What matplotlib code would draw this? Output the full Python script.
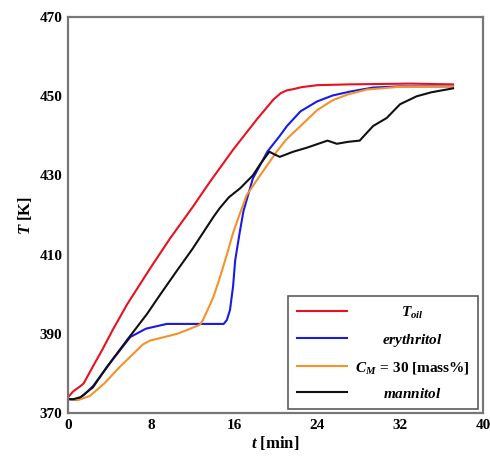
import matplotlib
matplotlib.use("Agg")
import matplotlib.pyplot as plt

plt.rcParams['font.family'] = ['Liberation Serif']
plt.rcParams['font.weight'] = 'bold'
plt.rcParams['mathtext.fontset'] = 'custom'
plt.rcParams['mathtext.rm'] = 'Liberation Serif:bold'
plt.rcParams['mathtext.it'] = 'Liberation Serif:italic:bold'
plt.rcParams['mathtext.bf'] = 'Liberation Serif:bold'

# T_oil
t_oil = [0, 0.5, 1.2, 1.5, 2.4, 3.3, 4.3, 5.7, 7.9, 9.8, 12.0, 13.7, 15.9, 18.2, 19.8, 20.5, 21.1, 21.7, 22.5, 24.0, 27.0, 30.0, 33.0, 37.1]
T_oil = [374.0, 375.5, 376.8, 377.5, 381.8, 386.0, 391.0, 397.5, 406.5, 414.0, 422.0, 428.5, 436.5, 444.2, 449.2, 450.8, 451.5, 451.8, 452.3, 452.8, 453.0, 453.1, 453.2, 453.0]

# erythritol
t_ery = [0, 0.8, 1.5, 2.4, 4.3, 6.0, 7.5, 9.5, 11.0, 13.0, 15.0, 15.3, 15.6, 15.9, 16.1, 16.5, 16.9, 17.8, 19.2, 20.4, 21.1, 22.4, 24.0, 25.5, 27.2, 29.4, 32.0, 37.1]
T_ery = [373.5, 373.3, 374.5, 376.8, 383.5, 389.2, 391.3, 392.5, 392.5, 392.5, 392.5, 393.5, 396.0, 402.0, 408.5, 415.0, 421.0, 429.2, 436.0, 440.0, 442.5, 446.2, 448.7, 450.2, 451.2, 452.2, 452.5, 452.5]

# C_M = 30 mass%
t_cm = [0, 1.0, 2.1, 3.5, 5.0, 6.3, 7.2, 7.9, 9.0, 10.5, 11.5, 12.7, 13.0, 13.7, 14.0, 14.6, 15.3, 15.9, 16.3, 17.2, 18.5, 20.1, 21.0, 22.4, 24.0, 25.5, 27.0, 28.8, 32.0, 37.1]
T_cm = [373.5, 373.3, 374.3, 377.5, 381.7, 385.0, 387.3, 388.3, 389.0, 390.0, 391.0, 392.3, 393.5, 397.5, 399.3, 404.0, 410.0, 415.5, 418.5, 425.0, 430.0, 436.0, 439.0, 442.5, 446.5, 449.0, 450.5, 451.7, 452.4, 452.5]

# mannitol
t_man = [0, 0.5, 1.2, 2.4, 3.7, 5.7, 7.6, 8.9, 10.5, 12.0, 12.7, 14.0, 14.6, 15.5, 16.6, 17.8, 18.5, 19.4, 19.9, 20.4, 21.7, 23.0, 25.0, 25.9, 27.0, 28.1, 29.4, 30.7, 32.0, 33.6, 35.0, 37.1]
T_man = [373.5, 373.5, 374.0, 376.5, 381.5, 388.5, 395.0, 400.0, 406.0, 411.5, 414.3, 419.5, 421.7, 424.5, 426.8, 430.0, 432.8, 436.0, 435.3, 434.7, 436.0, 437.0, 438.8, 438.0, 438.5, 438.8, 442.5, 444.5, 448.0, 450.0, 451.0, 452.0]

fig = plt.figure(figsize=(4.9, 4.68), dpi=100)
ax = fig.add_axes([0.139, 0.1175, 0.847, 0.846])

ax.plot(t_oil, T_oil, color='#e8111f', lw=1.5, label=r'$T_{oil}$')
ax.plot(t_ery, T_ery, color='#1a1ae6', lw=1.5, label=r'$erythritol$')
ax.plot(t_cm, T_cm, color='#f4922a', lw=1.5, label=r'$C_M\,{=}\,30$ [mass%]')
ax.plot(t_man, T_man, color='#111111', lw=1.5, label=r'$mannitol$')

ax.set_xlim(0, 40)
ax.set_ylim(370, 470)
ax.set_xticks([0, 8, 16, 24, 32, 40])
ax.set_yticks([370, 390, 410, 430, 450, 470])
ax.tick_params(length=0, labelsize=11, pad=4)
for lab in ax.get_xticklabels() + ax.get_yticklabels():
    lab.set_fontweight('bold')
for s in ax.spines.values():
    s.set_color('#777777')
    s.set_linewidth(1.6)

ax.set_xlabel(r'$t$ [min]', fontsize=12, fontweight='bold', labelpad=2)
ax.set_ylabel(r'$T$ [K]', fontsize=12, fontweight='bold', labelpad=4)

leg = ax.legend(loc='lower right', fontsize=11, frameon=True, fancybox=False,
                edgecolor='#333333', handlelength=3.3, handletextpad=0.5,
                labelspacing=0.72, borderpad=0.55, borderaxespad=0,
                bbox_to_anchor=(0.988, 0.01))
leg.get_frame().set_linewidth(1.2)

# center the legend labels within their column
fig.canvas.draw()
r = fig.canvas.get_renderer()
widths = [t.get_window_extent(r).width for t in leg.get_texts()]
wmax = max(widths)
for t, w in zip(leg.get_texts(), widths):
    t.set_x((wmax - w) / 2)

fig.savefig('out.png', dpi=100)
